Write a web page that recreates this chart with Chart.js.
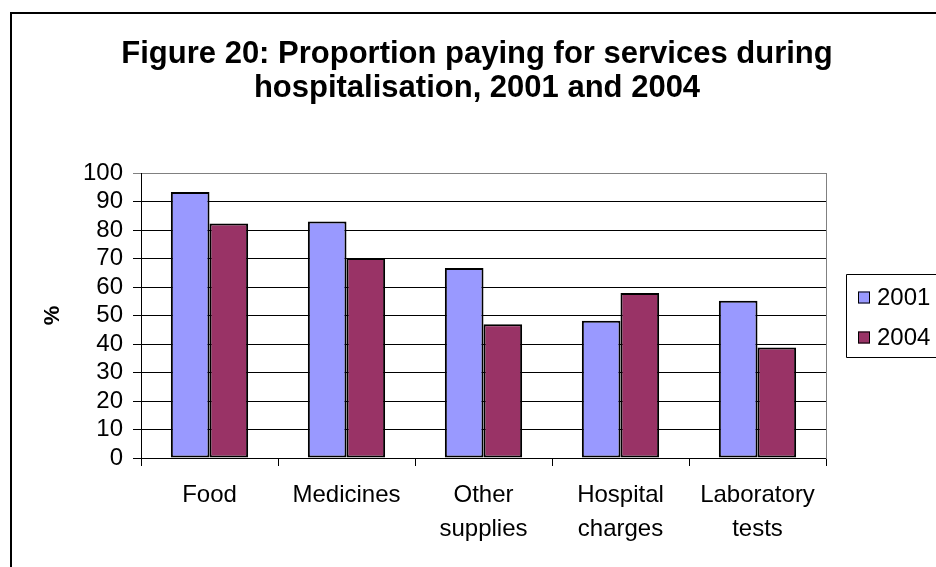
<!DOCTYPE html>
<html>
<head>
<meta charset="utf-8">
<script src="https://cdn.jsdelivr.net/npm/chart.js@4/dist/chart.umd.min.js"></script>
<style>
  html, body { margin: 0; padding: 0; background: #fff; overflow: hidden; }
  #wrap { position: relative; width: 936px; height: 567px; }
  /* outer frame, only its left and top edges fall inside the page */
  #frame { position: absolute; left: 10px; top: 12px; width: 2000px; height: 2000px;
           border-left: 2px solid #000; border-top: 2px solid #000; }
  #chart { position: absolute; left: 0; top: 0; }
</style>
</head>
<body>
<div id="wrap">
  <div id="frame"></div>
  <canvas id="chart" width="936" height="567"></canvas>
</div>
<script>
// services and the share of patients paying for each (%)
const categories = ['Food', 'Medicines', ['Other', 'supplies'], ['Hospital', 'charges'], ['Laboratory', 'tests']];
const years = ['2001', '2004'];
const values2001 = [93.3, 83.0, 66.7, 48.2, 55.2];
const values2004 = [82.3, 70.2, 46.9, 57.9, 38.8];
const yTicks = [0, 10, 20, 30, 40, 50, 60, 70, 80, 90, 100];

const FONT = '"Liberation Sans", Arial, Helvetica, sans-serif';
Chart.defaults.font.family = FONT;
Chart.defaults.color = '#000';

// boxed legend drawn into the space kept free by the right-hand spacer axis
const boxedLegend = {
    id: 'boxedLegend',
    afterDraw(chart) {
        const ctx = chart.ctx;
        const area = chart.chartArea;
        const left = area.right + 20;
        const top = Math.round((area.top + area.bottom) / 2 - 41.5) + 0.5;
        const h = 83;
        ctx.save();
        ctx.strokeStyle = '#000';
        ctx.lineWidth = 1;
        ctx.beginPath();
        ctx.moveTo(chart.width + 2, top);
        ctx.lineTo(left + 0.5, top);
        ctx.lineTo(left + 0.5, top + h);
        ctx.lineTo(chart.width + 2, top + h);
        ctx.stroke();
        ctx.font = '24px ' + FONT;
        ctx.textBaseline = 'middle';
        ctx.textAlign = 'left';
        chart.data.datasets.forEach((ds, i) => {
            const cy = top + 23 + i * 40;
            ctx.fillStyle = ds.backgroundColor;
            ctx.fillRect(left + 12, cy - 6, 12, 12);
            ctx.strokeRect(left + 12.5, cy - 5.5, 11, 11);
            ctx.fillStyle = '#000';
            ctx.fillText(ds.label, left + 31, cy + 1);
        });
        ctx.restore();
    }
};

new Chart(document.getElementById('chart'), {
    type: 'bar',
    data: {
        labels: categories,
        datasets: [{
            label: years[0],
            data: values2001,
            backgroundColor: '#9999FF',
            borderColor: '#000',
            borderWidth: 2,
            borderSkipped: false
        }, {
            label: years[1],
            data: values2004,
            backgroundColor: '#993366',
            borderColor: '#000',
            borderWidth: 2,
            borderSkipped: false
        }]
    },
    options: {
        responsive: false,
        animation: false,
        devicePixelRatio: 1,
        layout: { padding: { left: 18, top: 0, right: 0, bottom: 0 } },
        datasets: {
            bar: { categoryPercentage: 0.564, barPercentage: 1 }
        },
        plugins: {
            legend: { display: false },
            tooltip: { enabled: false },
            title: {
                display: true,
                text: ['Figure 20: Proportion paying for services during', 'hospitalisation, 2001 and 2004'],
                color: '#000',
                font: { size: 31, weight: 'bold', lineHeight: 1.097 },
                padding: { top: 37, bottom: 68 }
            }
        },
        scales: {
            x: {
                grid: { drawOnChartArea: false, drawTicks: true, tickLength: 8, color: '#000', offset: true },
                border: { color: '#000', width: 1 },
                ticks: { font: { size: 24, lineHeight: 1.417 }, padding: 12, maxRotation: 0, autoSkip: false },
                afterFit: scale => { scale.height = 109; }
            },
            y: {
                min: 0,
                max: 100,
                afterBuildTicks: scale => { scale.ticks = yTicks.map(v => ({ value: v })); },
                grid: {
                    color: c => (c.tick && c.tick.value === 100 ? '#808080' : '#000'),
                    tickLength: 8
                },
                border: { color: '#000', width: 1 },
                ticks: { font: { size: 24 }, padding: 10, autoSkip: false },
                title: {
                    display: true,
                    text: '%',
                    font: { size: 22, weight: 'bold' },
                    padding: { top: 22, bottom: 0 }
                },
                afterFit: scale => { scale.width = 123; }
            },
            // spacer on the right: its border closes the plot area
            spacer: {
                type: 'linear',
                position: 'right',
                display: true,
                grid: { display: false, drawTicks: false },
                border: { display: true, color: '#808080', width: 1 },
                ticks: { display: false },
                afterFit: scale => { scale.width = 110; }
            }
        }
    },
    plugins: [boxedLegend]
});
</script>
</body>
</html>
